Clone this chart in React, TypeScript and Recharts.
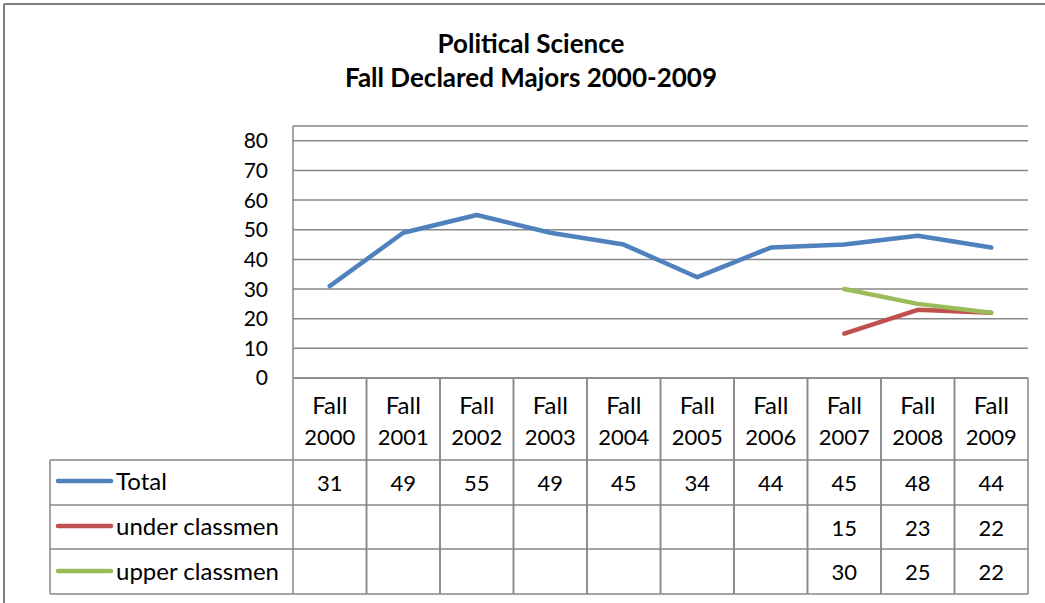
import { LineChart, Line, XAxis, YAxis, CartesianGrid } from "recharts";

const categories = [
  "Fall 2000", "Fall 2001", "Fall 2002", "Fall 2003", "Fall 2004",
  "Fall 2005", "Fall 2006", "Fall 2007", "Fall 2008", "Fall 2009",
];
const total = [31, 49, 55, 49, 45, 34, 44, 45, 48, 44];
const underClassmen = [null, null, null, null, null, null, null, 15, 23, 22];
const upperClassmen = [null, null, null, null, null, null, null, 30, 25, 22];
const yTicks = [0, 10, 20, 30, 40, 50, 60, 70, 80];

const series = [
  { key: "total", name: "Total", values: total, color: "#4F81BD" },
  { key: "under", name: "under classmen", values: underClassmen, color: "#C0504D" },
  { key: "upper", name: "upper classmen", values: upperClassmen, color: "#9BBB59" },
];

const data = categories.map((c, i) => ({
  idx: i,
  name: c,
  total: total[i],
  under: underClassmen[i],
  upper: upperClassmen[i],
}));

const W = 1045;
const H = 603;
const PLOT_LEFT = 293;
const PLOT_RIGHT = 1028;
const PLOT_TOP = 126;
const PLOT_BOTTOM = 378;
const BAND = (PLOT_RIGHT - PLOT_LEFT) / categories.length;
const ROW_LINES = [460, 505, 549, 594];
const GRID = "#878787";
const FONT = "Lato, 'Liberation Sans', sans-serif";

function TableColumn(props: any) {
  const { x, payload } = props;
  const i = payload.value as number;
  const [fall, year] = categories[i].split(" ");
  const l = x - BAND / 2;
  const r = x + BAND / 2;
  const rowCenters = [482, 527, 571];
  return (
    <g>
      <line x1={l} x2={l} y1={PLOT_BOTTOM} y2={ROW_LINES[3]} stroke={GRID} strokeWidth={1.5} />
      <line x1={r} x2={r} y1={PLOT_BOTTOM} y2={ROW_LINES[3]} stroke={GRID} strokeWidth={1.5} />
      {ROW_LINES.map((y) => (
        <line key={y} x1={l} x2={r} y1={y} y2={y} stroke={GRID} strokeWidth={1.5} />
      ))}
      <text x={x} y={404} textAnchor="middle" dominantBaseline="central" fontSize={24} fill="#000">
        {fall}
      </text>
      <text x={x} y={436} textAnchor="middle" dominantBaseline="central" fontSize={22} fill="#000">
        {year}
      </text>
      {series.map((s, j) =>
        s.values[i] == null ? null : (
          <text key={s.key} x={x} y={rowCenters[j]} textAnchor="middle" dominantBaseline="central" fontSize={22} fill="#000">
            {s.values[i]}
          </text>
        )
      )}
    </g>
  );
}

export default function App() {
  const rowCenters = [481, 526, 571];
  return (
    <div style={{ position: "absolute", left: 0, top: 0, width: W, height: H, background: "#fff", fontFamily: FONT }}>
      <LineChart
        width={W}
        height={H}
        data={data}
        margin={{ top: PLOT_TOP, right: W - PLOT_RIGHT, bottom: 0, left: 0 }}
      >
        <CartesianGrid horizontal vertical={false} stroke={GRID} strokeWidth={1.5} />
        <XAxis
          type="number"
          dataKey="idx"
          domain={[-0.5, 9.5]}
          ticks={categories.map((_, i) => i)}
          interval={0}
          height={H - PLOT_BOTTOM}
          tickLine={false}
          axisLine={{ stroke: GRID, strokeWidth: 1.5 }}
          tick={<TableColumn />}
        />
        <YAxis
          width={PLOT_LEFT}
          domain={[0, 85]}
          ticks={yTicks}
          interval={0}
          tickLine={false}
          tickSize={0}
          tickMargin={25}
          axisLine={{ stroke: GRID, strokeWidth: 1.5 }}
          tick={{ fill: "#000", fontSize: 21 }}
        />
        {series.map((s) => (
          <Line
            key={s.key}
            type="linear"
            dataKey={s.key}
            name={s.name}
            stroke={s.color}
            strokeWidth={4.5}
            strokeLinecap="round"
            strokeLinejoin="round"
            dot={false}
            activeDot={false}
            isAnimationActive={false}
          />
        ))}
      </LineChart>
      <svg
        width={W}
        height={H}
        style={{ position: "absolute", left: 0, top: 0, pointerEvents: "none" }}
      >
        <line x1={4} x2={W} y1={4} y2={4} stroke="#808080" strokeWidth={2} />
        <line x1={4} x2={4} y1={4} y2={H} stroke="#808080" strokeWidth={2} />
        <text x={531} y={43} textAnchor="middle" dominantBaseline="central" fontSize={26} fontWeight="bold" fill="#000">
          Political Science
        </text>
        <text x={531} y={77} textAnchor="middle" dominantBaseline="central" fontSize={26} fontWeight="bold" fill="#000">
          Fall Declared Majors 2000-2009
        </text>
        {ROW_LINES.map((y) => (
          <line key={y} x1={50} x2={PLOT_LEFT} y1={y} y2={y} stroke={GRID} strokeWidth={1.5} />
        ))}
        <line x1={50} x2={50} y1={ROW_LINES[0]} y2={ROW_LINES[3]} stroke={GRID} strokeWidth={1.5} />
        {series.map((s, j) => (
          <g key={s.key}>
            <line x1={58} x2={111} y1={rowCenters[j]} y2={rowCenters[j]} stroke={s.color} strokeWidth={4.5} strokeLinecap="round" />
            <text x={116} y={rowCenters[j] - 1} dominantBaseline="central" fontSize={24} fill="#000">
              {s.name}
            </text>
          </g>
        ))}
      </svg>
    </div>
  );
}
